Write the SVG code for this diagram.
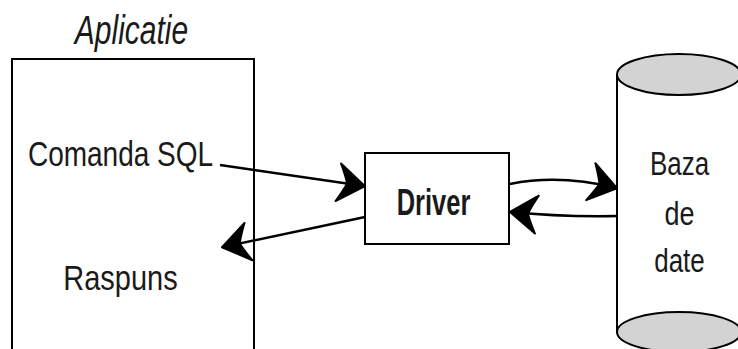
<svg xmlns="http://www.w3.org/2000/svg" width="738" height="349" viewBox="0 0 738 349">
<defs>
<style>
.box{fill:#fff;stroke:#000;stroke-width:2}
.lbl{font-family:"Liberation Sans",Arial,sans-serif;fill:#1a1a1a;text-anchor:middle}
.conn{fill:none;stroke:#000;stroke-width:2.5}
.cap{fill:#d3d3d3;stroke:#000;stroke-width:2}
</style>
<marker id="arr" markerUnits="userSpaceOnUse" viewBox="-30 -22 32 44" refX="0" refY="0" markerWidth="32" markerHeight="44" orient="auto" overflow="visible">
<path d="M1,0 L-26,-19 Q-20,-8 -17,0 Q-20,8 -26,19 Z" fill="#000" stroke="#000" stroke-width="2" stroke-linejoin="round"/>
</marker>
</defs>
<rect width="738" height="349" fill="#fff"/>
<g id="aplicatie">
<rect class="box" x="12" y="59" width="242" height="300"/>
<text class="lbl" font-style="italic" font-size="30" transform="translate(131.5,44) scale(1,1.33)">Aplicatie</text>
<text class="lbl" font-size="28" transform="translate(120.5,166) scale(1,1.25)">Comanda SQL</text>
<text class="lbl" font-size="29" transform="translate(120.5,290) scale(1,1.22)">Raspuns</text>
</g>
<g id="driver">
<rect class="box" x="365" y="153" width="144" height="91"/>
<text class="lbl" font-weight="bold" font-size="26" fill="#000" transform="translate(433.5,215) scale(0.98,1.39)">Driver</text>
</g>
<g id="baza">
<rect x="617" y="74" width="124" height="258" fill="#fff"/>
<line x1="617" y1="74" x2="617" y2="332" stroke="#000" stroke-width="2"/>
<ellipse class="cap" cx="679" cy="332" rx="62" ry="20"/>
<ellipse class="cap" cx="679" cy="74.5" rx="62" ry="20.5"/>
<text class="lbl" font-size="26" transform="translate(679.5,175) scale(1,1.26)">Baza</text>
<text class="lbl" font-size="27" transform="translate(679.5,225) scale(1,1.26)">de</text>
<text class="lbl" font-size="26" transform="translate(679.5,272) scale(1,1.26)">date</text>
</g>
<g id="connectors">
<path class="conn" d="M220,165 L364,186" marker-end="url(#arr)"/>
<path class="conn" d="M365,217 L223,247" marker-end="url(#arr)"/>
<path class="conn" d="M510,184 Q560,174 616,188" marker-end="url(#arr)"/>
<path class="conn" d="M617,216 Q560,217 511,212" marker-end="url(#arr)"/>
</g>
</svg>
